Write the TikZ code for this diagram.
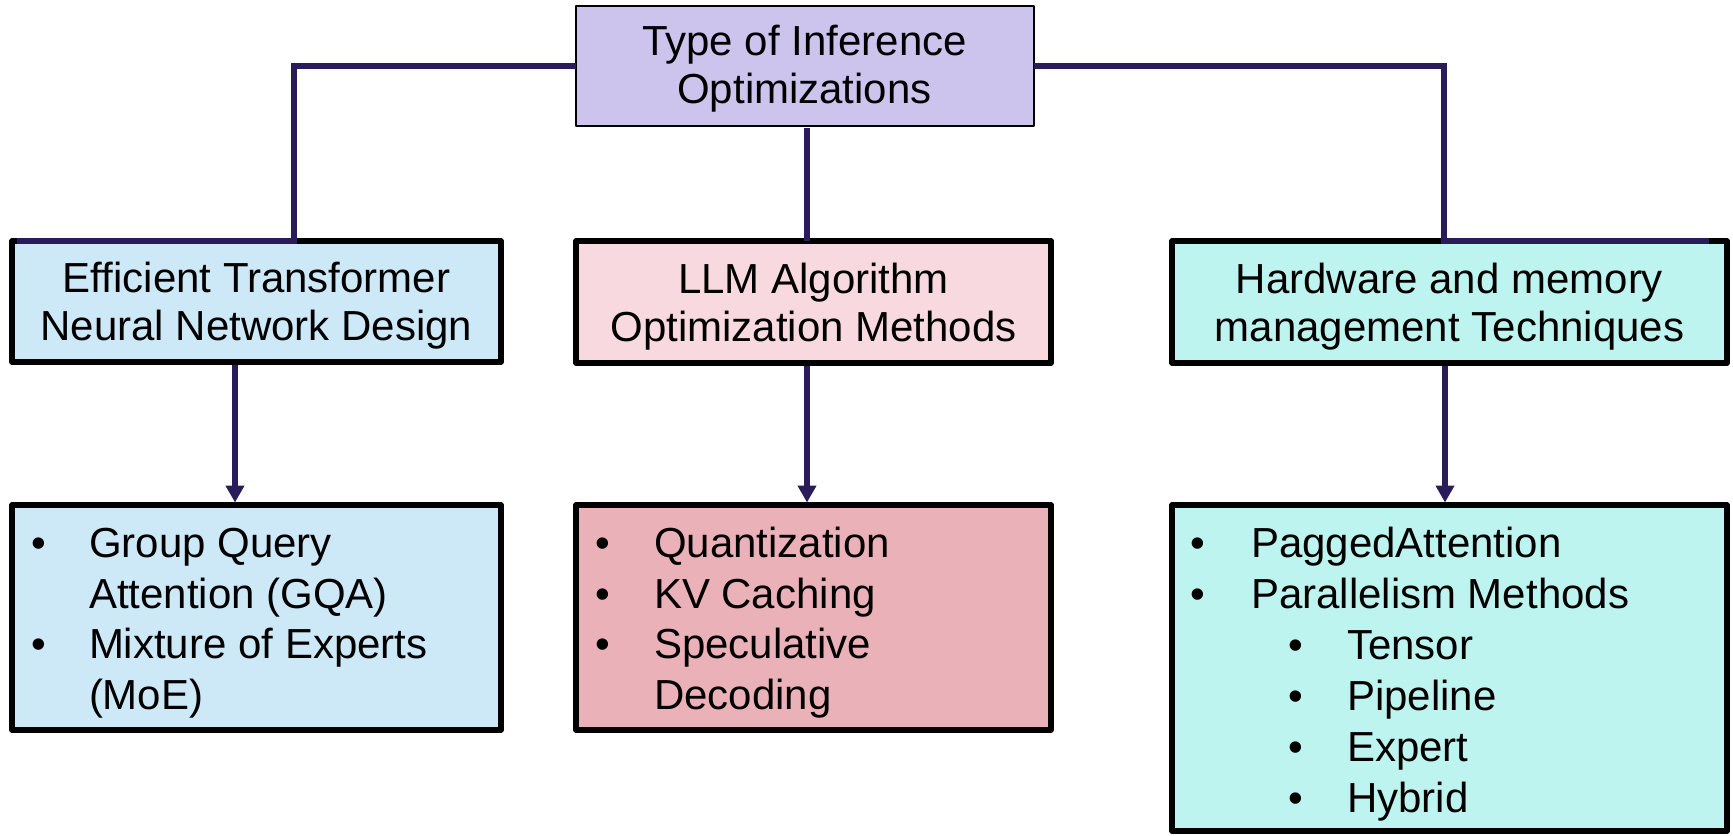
\documentclass[tikz,border=0pt]{standalone}
\usepackage{fontspec}
\setmainfont{Liberation Sans}
\usetikzlibrary{arrows.meta,calc}

\definecolor{navy}{RGB}{42,27,91}
\definecolor{lavender}{RGB}{204,196,236}
\definecolor{skyfill}{RGB}{205,232,246}
\definecolor{rosefill}{RGB}{247,217,223}
\definecolor{rosedeep}{RGB}{235,177,184}
\definecolor{aquafill}{RGB}{189,244,239}

% two centred lines; the first baseline sits #1 above the node centre
\newcommand\twoline[3]{\raisebox{#1}[0pt][0pt]{\begin{tabular}[t]{@{}c@{}}#2\\#3\end{tabular}}}

\begin{document}
\begin{tikzpicture}[x=0.75pt,y=-0.75pt,
  every node/.style={outer sep=0pt},
  card/.style={draw=black, line width=4.1pt, line join=round, inner sep=0pt,
    font=\fontsize{31.5}{36}\selectfont},
  link/.style={draw=navy, line width=4.3pt},
  arr/.style={link, -{Triangle[width=13.5pt,length=12.75pt]}},
  txt/.style={anchor=base west, inner sep=0pt, font=\fontsize{31.5}{38}\selectfont},
  dot/.style={anchor=base, inner sep=0pt, font=\fontsize{31.5}{38}\selectfont},
]
\useasboundingbox (0,0) rectangle (1733,835);

% root
\node[card, line width=1.5pt, fill=lavender, minimum width=343.5pt, minimum height=90pt]
  (top) at (804.5,66) {\twoline{8.25pt}{Type of Inference}{Optimizations}};

% categories
\node[card, fill=skyfill, minimum width=366.75pt, minimum height=90.75pt]
  (eff) at (256.5,301.5) {\twoline{6.5pt}{Efficient Transformer}{Neural Network Design}};
\node[card, fill=rosefill, minimum width=356.25pt, minimum height=91.5pt]
  (llm) at (813.5,302) {\twoline{6.75pt}{LLM Algorithm}{Optimization Methods}};
\node[card, fill=aquafill, minimum width=416.25pt, minimum height=91.5pt]
  (hw) at (1449.5,302) {\twoline{6.75pt}{Hardware and memory}{management Techniques}};

% detail boxes
\node[card, fill=skyfill, minimum width=366.75pt, minimum height=168.75pt]
  (gqa) at (256.5,617.5) {};
\node[card, fill=rosedeep, minimum width=356.25pt, minimum height=168.75pt]
  (quant) at (813.5,617.5) {};
\node[card, fill=aquafill, minimum width=416.25pt, minimum height=244.5pt]
  (paged) at (1449.5,668) {};

% list in the first detail box
\node[dot] (b11) at (39,557) {•};
\node[txt] (t11) at (89,557) {Group Query};
\node[txt] (t12) at (89,608) {Attention (GQA)};
\node[dot] (b12) at (39,658) {•};
\node[txt] (t13) at (89,658) {Mixture of Experts};
\node[txt] (t14) at (89,709) {(MoE)};

% list in the second detail box
\node[dot] (b21) at (603,557) {•};
\node[txt] (t21) at (654,557) {Quantization};
\node[dot] (b22) at (603,608) {•};
\node[txt] (t22) at (654,608) {KV Caching};
\node[dot] (b23) at (603,658) {•};
\node[txt] (t23) at (654,658) {Speculative};
\node[txt] (t24) at (654,709) {Decoding};

% list in the third detail box
\node[dot] (b31) at (1198,557) {•};
\node[txt] (t31) at (1251,557) {PaggedAttention};
\node[dot] (b32) at (1198,608) {•};
\node[txt] (t32) at (1251,608) {Parallelism Methods};
\node[dot] (b33) at (1296,659) {•};
\node[txt] (t33) at (1347,659) {Tensor};
\node[dot] (b34) at (1296,710) {•};
\node[txt] (t34) at (1347,710) {Pipeline};
\node[dot] (b35) at (1296,761) {•};
\node[txt] (t35) at (1347,761) {Expert};
\node[dot] (b36) at (1296,812) {•};
\node[txt] (t36) at (1347,812) {Hybrid};

% elbow connectors from the root
\draw[link] (top.west) -| ($(eff.north)+(37.5,0)$) -- ($(eff.north west)+(5,0)$);
\draw[link] (top.east) -| ($(hw.north)+(-5.5,0)$) -- ($(hw.north east)+(-18,0)$);
\draw[link] ($(top.south)+(2.5,2)$) -- ($(llm.north)+(-6.5,0)$);

% arrows down to the detail boxes
\draw[arr] ($(eff.south)+(-21.5,3)$) -- ($(gqa.north)+(-21.5,-2.5)$);
\draw[arr] ($(llm.south)+(-6.5,3)$) -- ($(quant.north)+(-6.5,-2.5)$);
\draw[arr] ($(hw.south)+(-4.5,3)$) -- ($(paged.north)+(-4.5,-2.5)$);
\end{tikzpicture}
\end{document}
